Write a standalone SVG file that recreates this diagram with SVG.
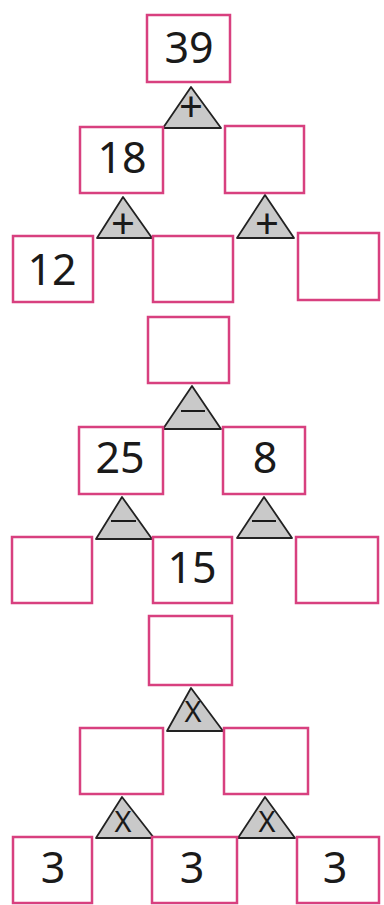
<svg xmlns="http://www.w3.org/2000/svg" width="384" height="905" viewBox="0 0 384 905">
<style>
.box{fill:#fff;stroke:#d8407f;stroke-width:2.5}
.tri{fill:#c9c9c9;stroke:#222;stroke-width:1.8;stroke-linejoin:round}
.num{font-family:"Noto Sans",sans-serif;font-size:43px;fill:#1a1a1a;text-anchor:middle}
.op{font-family:"Noto Sans",sans-serif;font-size:42px;fill:#1a1a1a;text-anchor:middle}
.opx{font-family:"Noto Sans",sans-serif;font-size:29px;fill:#1a1a1a;text-anchor:middle}
</style>
<rect width="384" height="905" fill="#fff"/>
<g id="connectors">
<polygon id="t1" class="tri" points="191,87 163,128 221,128"/>
<polygon id="t2" class="tri" points="123,197 97,238 152,238"/>
<polygon id="t3" class="tri" points="265,195 237,238 294,238"/>
<polygon id="t4" class="tri" points="192,386 163,429 221,429"/>
<polygon id="t5" class="tri" points="122,497 96,539 152,539"/>
<polygon id="t6" class="tri" points="264,497 237,538 292,538"/>
<polygon id="t7" class="tri" points="191,688 167,731 223,731"/>
<polygon id="t8" class="tri" points="122,797 96,838 154,838"/>
<polygon id="t9" class="tri" points="265,797 238,838 295,838"/>
<text class="op" x="191" y="122">+</text>
<text class="op" x="123" y="239">+</text>
<text class="op" x="267" y="239">+</text>
<line x1="181" y1="411" x2="205" y2="411" stroke="#1a1a1a" stroke-width="2"/>
<line x1="111" y1="521" x2="136" y2="521" stroke="#1a1a1a" stroke-width="2"/>
<line x1="252" y1="521" x2="276" y2="521" stroke="#1a1a1a" stroke-width="2"/>
<text class="opx" x="193" y="722">X</text>
<text class="opx" x="123" y="832">X</text>
<text class="opx" x="267" y="832">X</text>
</g>
<g id="n1"><rect class="box" x="147" y="15" width="83" height="67"/><text class="num" x="189" y="63">39</text></g>
<g id="n2"><rect class="box" x="80" y="127" width="83" height="66"/><text class="num" x="122" y="173">18</text></g>
<g id="n3"><rect class="box" x="225" y="126" width="79" height="67"/></g>
<g id="n4"><rect class="box" x="13" y="236" width="80" height="66"/><text class="num" x="52" y="285">12</text></g>
<g id="n5"><rect class="box" x="153" y="236" width="80" height="66"/></g>
<g id="n6"><rect class="box" x="298" y="233" width="81" height="67"/></g>
<g id="n7"><rect class="box" x="148" y="317" width="81" height="66"/></g>
<g id="n8"><rect class="box" x="79" y="427" width="84" height="67"/><text class="num" x="120" y="473">25</text></g>
<g id="n9"><rect class="box" x="223" y="427" width="82" height="67"/><text class="num" x="265" y="473">8</text></g>
<g id="n10"><rect class="box" x="12" y="537" width="80" height="66"/></g>
<g id="n11"><rect class="box" x="153" y="537" width="79" height="66"/><text class="num" x="192" y="583">15</text></g>
<g id="n12"><rect class="box" x="296" y="537" width="82" height="66"/></g>
<g id="n13"><rect class="box" x="149" y="616" width="83" height="69"/></g>
<g id="n14"><rect class="box" x="80" y="728" width="83" height="66"/></g>
<g id="n15"><rect class="box" x="224" y="728" width="84" height="66"/></g>
<g id="n16"><rect class="box" x="13" y="837" width="79" height="66"/><text class="num" x="53" y="883">3</text></g>
<g id="n17"><rect class="box" x="152" y="837" width="85" height="66"/><text class="num" x="192" y="883">3</text></g>
<g id="n18"><rect class="box" x="297" y="837" width="82" height="66"/><text class="num" x="335" y="883">3</text></g>
</svg>
